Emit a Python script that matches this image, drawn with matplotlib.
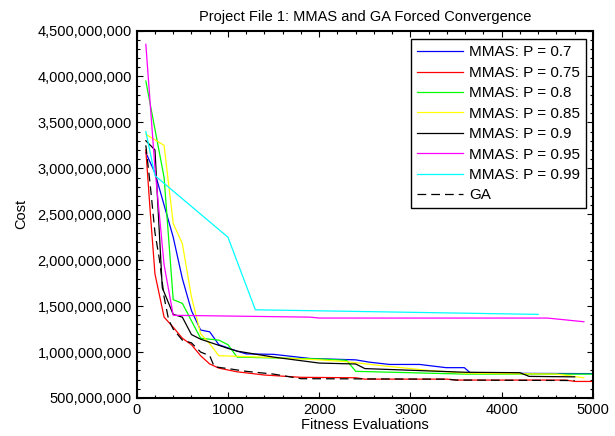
import numpy as np
import matplotlib
matplotlib.use("Agg")
import matplotlib.pyplot as plt
from matplotlib.ticker import MultipleLocator, FuncFormatter

plt.rcParams['font.family'] = ['Liberation Sans', 'DejaVu Sans']

# evaluations / cost
x_p70 = [100, 200, 300, 400, 500, 600, 700, 800, 900, 1100, 1200, 1500, 1900, 2400, 2550, 2770, 3100, 3390, 3590, 3660, 5000]
y_p70 = [3.17e9, 2.95e9, 2.6e9, 2.25e9, 1.8e9, 1.45e9, 1.24e9, 1.22e9, 1.08e9, 1.01e9, 9.8e8, 9.75e8, 9.3e8, 9.15e8, 8.9e8, 8.65e8, 8.65e8, 8.3e8, 8.3e8, 7.7e8, 7.65e8]

x_p75 = [100, 150, 200, 300, 400, 500, 600, 700, 800, 900, 1100, 1400, 1800, 2400, 2500, 3400, 3500, 4700, 4800, 5000]
y_p75 = [3.2e9, 2.5e9, 1.85e9, 1.38e9, 1.27e9, 1.15e9, 1.08e9, 9.6e8, 8.7e8, 8.25e8, 7.85e8, 7.5e8, 7.25e8, 7.2e8, 7.05e8, 7.05e8, 6.95e8, 6.95e8, 6.8e8, 6.8e8]

x_p80 = [100, 300, 400, 500, 700, 900, 1000, 1100, 2000, 2300, 2400, 3600, 5000]
y_p80 = [3.95e9, 2.9e9, 1.57e9, 1.53e9, 1.15e9, 1.13e9, 1.08e9, 9.45e8, 9.25e8, 9.1e8, 7.9e8, 7.6e8, 7.6e8]

x_p85 = [100, 300, 400, 500, 600, 700, 800, 900, 1500, 2000, 2300, 2700, 3200, 3600, 4600, 4900]
y_p85 = [3.37e9, 3.25e9, 2.4e9, 2.18e9, 1.6e9, 1.2e9, 1.09e9, 9.6e8, 9.4e8, 9.15e8, 8.95e8, 8.5e8, 8.0e8, 7.7e8, 7.6e8, 7.2e8]

x_p90 = [100, 200, 280, 400, 500, 600, 700, 1000, 1100, 1500, 2000, 2400, 2500, 3600, 4200, 4300, 4800]
y_p90 = [3.3e9, 3.2e9, 1.7e9, 1.41e9, 1.38e9, 1.19e9, 1.14e9, 1.04e9, 1.01e9, 9.45e8, 8.8e8, 8.7e8, 8.2e8, 7.8e8, 7.75e8, 7.35e8, 7.3e8]

x_p95 = [100, 200, 300, 400, 1900, 2000, 4500, 4900]
y_p95 = [4.35e9, 3.0e9, 1.95e9, 1.4e9, 1.38e9, 1.37e9, 1.37e9, 1.33e9]

x_p99 = [100, 200, 1000, 1300, 4400]
y_p99 = [3.4e9, 2.92e9, 2.25e9, 1.46e9, 1.41e9]

x_ga = [100, 150, 200, 250, 300, 350, 400, 500, 600, 700, 800, 850, 1000, 1200, 1500, 1800, 3400, 3500, 4800]
y_ga = [3.25e9, 2.8e9, 2.3e9, 2.0e9, 1.6e9, 1.35e9, 1.25e9, 1.13e9, 1.1e9, 1.0e9, 9.6e8, 8.4e8, 8.2e8, 7.9e8, 7.6e8, 7.1e8, 7.05e8, 6.95e8, 6.9e8]

series = [
    (x_p70, y_p70, 'MMAS: P = 0.7', '#0000ff'),
    (x_p75, y_p75, 'MMAS: P = 0.75', '#ff0000'),
    (x_p80, y_p80, 'MMAS: P = 0.8', '#00ff00'),
    (x_p85, y_p85, 'MMAS: P = 0.85', '#ffff00'),
    (x_p90, y_p90, 'MMAS: P = 0.9', '#000000'),
    (x_p95, y_p95, 'MMAS: P = 0.95', '#ff00ff'),
    (x_p99, y_p99, 'MMAS: P = 0.99', '#00ffff'),
]

fig = plt.figure(figsize=(6.15, 4.36), dpi=100)
ax = fig.add_axes([0.2223, 0.0872, 0.7419, 0.8428])

for xs, ys, lab, col in series:
    ax.plot(xs, ys, color=col, linewidth=0.9, label=lab)
ax.plot(x_ga, y_ga, color='#000000', linestyle=(0, (7, 4)), linewidth=0.9, label='GA')

ax.set_xlim(0, 5000)
ax.set_ylim(5e8, 4.5e9)
ax.xaxis.set_major_locator(MultipleLocator(1000))
ax.xaxis.set_minor_locator(MultipleLocator(200))
ax.yaxis.set_major_locator(MultipleLocator(5e8))
ax.yaxis.set_minor_locator(MultipleLocator(1e8))
ax.yaxis.set_major_formatter(FuncFormatter(lambda v, p: '{:,.0f}'.format(v)))
ax.tick_params(which='both', direction='in', top=True, right=True, labelsize=10.5, width=0.8)
ax.tick_params(which='major', length=4)
ax.tick_params(which='minor', length=2)
for s in ax.spines.values():
    s.set_linewidth(1.5)

ax.set_title('Project File 1: MMAS and GA Forced Convergence', fontsize=10.5, pad=7)
ax.set_xlabel('Fitness Evaluations', fontsize=10.5, labelpad=1)
ax.set_ylabel('Cost', fontsize=10.5, labelpad=7)

leg = ax.legend(loc='upper right', bbox_to_anchor=(0.985, 0.976), borderaxespad=0,
                fontsize=11, handlelength=3.0, handletextpad=0.4, labelspacing=0.42,
                fancybox=False, framealpha=1, edgecolor='black')
leg.get_frame().set_linewidth(1.0)

fig.savefig('out.png', dpi=100)
